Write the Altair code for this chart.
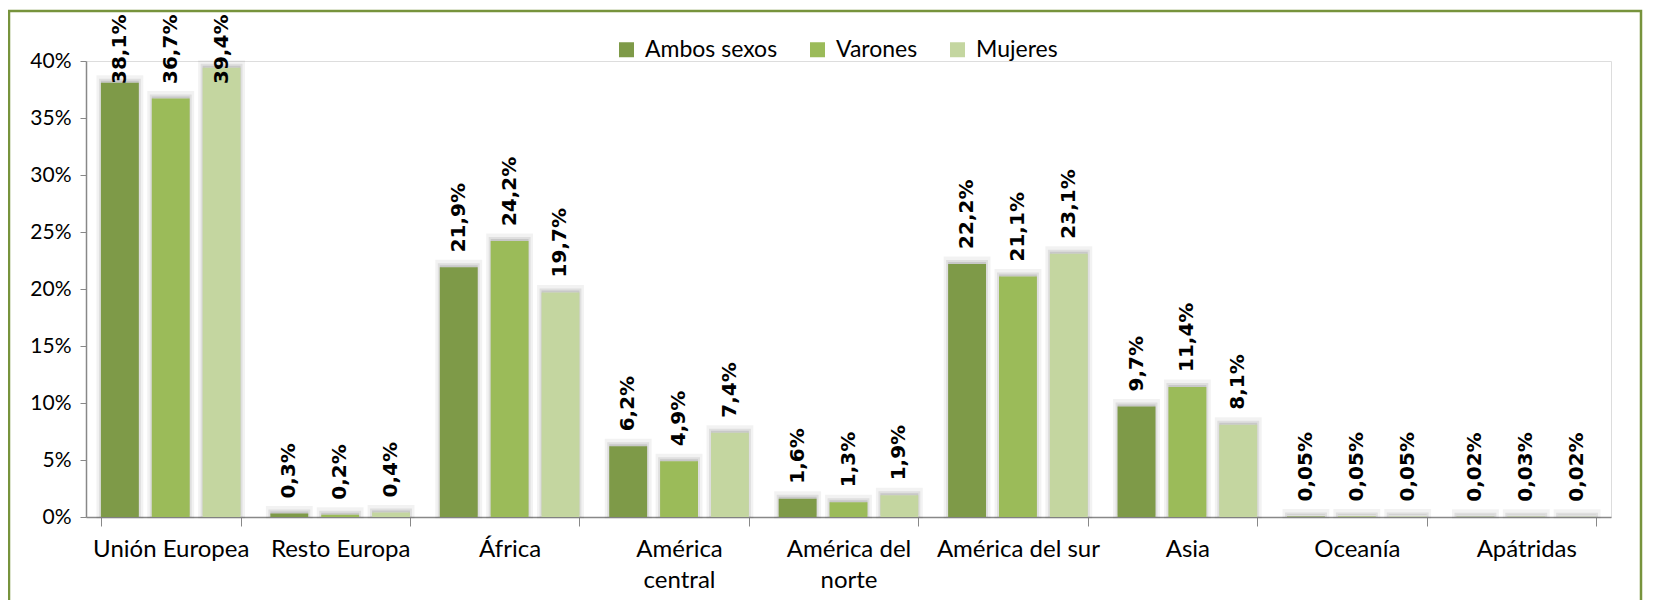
import altair as alt
import pandas as pd

categories = ["Unión Europea", "Resto Europa", "África", "América\ncentral",
              "América del\nnorte", "América del sur", "Asia", "Oceanía", "Apátridas"]
series = ["Ambos sexos", "Varones", "Mujeres"]
ambos = [38.1, 0.3, 21.9, 6.2, 1.6, 22.2, 9.7, 0.05, 0.02]
varones = [36.7, 0.2, 24.2, 4.9, 1.3, 21.1, 11.4, 0.05, 0.03]
mujeres = [39.4, 0.4, 19.7, 7.4, 1.9, 23.1, 8.1, 0.05, 0.02]
colors = ["#7E9A48", "#9BBB59", "#C4D6A0"]
y_ticks = [0, 5, 10, 15, 20, 25, 30, 35, 40]


def fmt(v):
    s = f"{v:.1f}" if v >= 0.1 else f"{v:.2f}"
    return s.replace(".", ",") + "%"


rows = []
for s, vals in zip(series, [ambos, varones, mujeres]):
    for c, v in zip(categories, vals):
        rows.append({"cat": c, "serie": s, "value": v, "label": fmt(v)})
df = pd.DataFrame(rows)

W, H = 1525, 456
FONT = "Lato"

x_enc = alt.X("cat:N", sort=categories, title=None,
              scale=alt.Scale(paddingInner=0.176, paddingOuter=0.088),
              axis=alt.Axis(labelAngle=0, labelFontSize=24, labelFont=FONT, labelColor="#000000",
                            labelPadding=11, tickBand="extent", tickSize=9, tickColor="#888888",
                            domainColor="#888888", domainWidth=1.5, labelLineHeight=31,
                            labelExpr="split(datum.label, '\\n')", labelBaseline="top"))
xo_enc = alt.XOffset("serie:N", sort=series, scale=alt.Scale(paddingInner=0.255, paddingOuter=0))
y_enc = alt.Y("value:Q", title=None, scale=alt.Scale(domain=[0, 40], nice=False),
              axis=alt.Axis(values=y_ticks, labelExpr="datum.value + '%'", grid=False,
                            labelFontSize=21, labelFont=FONT, labelColor="#000000",
                            tickSize=6, tickColor="#888888", domainColor="#888888",
                            domainWidth=1.5, labelPadding=9))

base = alt.Chart(df)

shadow_outer = base.mark_bar(color="#000000", fillOpacity=0.0, stroke="#000000",
                             strokeOpacity=0.05, strokeWidth=9, yOffset=-3).encode(
    x=x_enc, xOffset=xo_enc, y=y_enc)
shadow_inner = base.mark_bar(color="#000000", fillOpacity=0.10, stroke="#000000",
                             strokeOpacity=0.08, strokeWidth=4, yOffset=-2).encode(
    x=x_enc, xOffset=xo_enc, y=y_enc)

bars = base.mark_bar().encode(
    x=x_enc, xOffset=xo_enc, y=y_enc,
    color=alt.Color("serie:N", sort=series, title=None,
                    scale=alt.Scale(domain=series, range=colors),
                    legend=alt.Legend(orient="none", legendX=529, legendY=-23,
                                      direction="horizontal", symbolType="square",
                                      symbolSize=225, symbolStrokeWidth=0,
                                      labelFontSize=23, labelFont=FONT, labelColor="#000000",
                                      columnPadding=28, labelOffset=7, padding=0)))

labels = base.transform_calculate(lab="min(datum.value, 36.67)").mark_text(
    angle=270, align="left", baseline="middle", dx=15,
    font="DejaVu Sans", fontWeight="bold", fontSize=20, color="#000000").encode(
    x=x_enc, xOffset=xo_enc, y=alt.Y("lab:Q", scale=alt.Scale(domain=[0, 40], nice=False)),
    text="label:N")

frame = alt.Chart(alt.Data(values=[{}])).mark_rect(
    fill=None, stroke="#77933C", strokeWidth=2.5).encode(
    x=alt.value(-77), x2=alt.value(1555), y=alt.value(-50), y2=alt.value(548))

chart = alt.layer(frame, shadow_outer, shadow_inner, bars, labels).properties(
    width=W, height=H,
    autosize=alt.AutoSizeParams(type="none"),
    padding={"left": 78, "top": 53, "right": 34, "bottom": 83},
).configure_view(stroke=None).configure(background="white")

chart.save("out.html", embed_options={"renderer": "svg", "actions": False})
